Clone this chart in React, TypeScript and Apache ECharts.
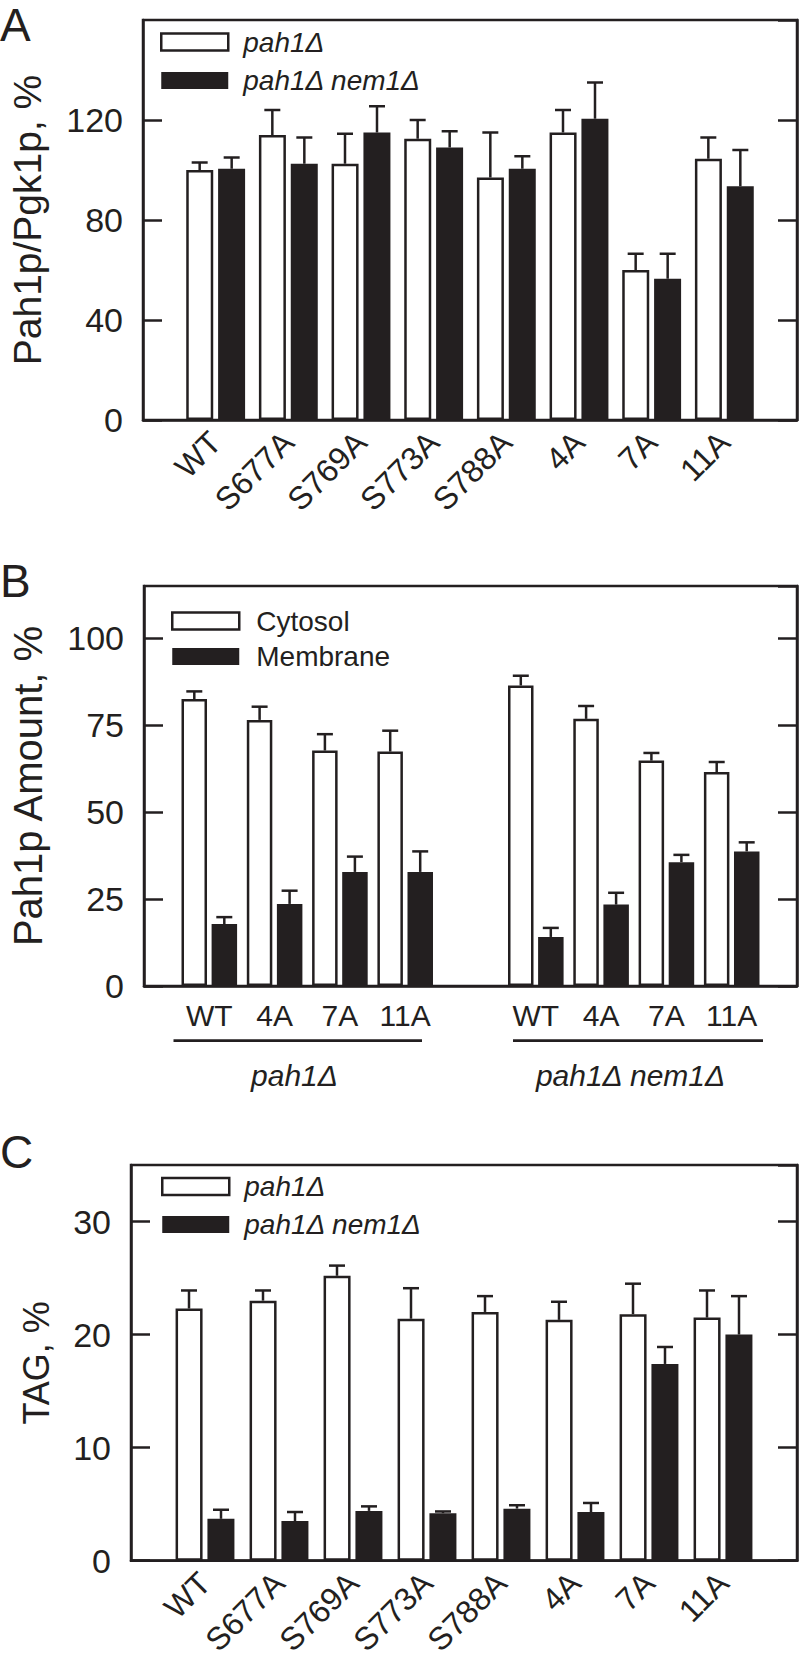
import React, { useEffect, useRef } from 'react';
import * as echarts from 'echarts';

const FONT = '"Liberation Sans", Arial, Helvetica, sans-serif';
const INK = '#231f20';

// ---------- Panel A ----------
const catsA = ['WT', 'S677A', 'S769A', 'S773A', 'S788A', '4A', '7A', '11A'];
const aPah1 = [100, 114, 102.5, 112.5, 97, 115, 60, 104.5];
const aPah1Err = [103, 124, 114.5, 120, 115, 124, 66.5, 113];
const aNem1 = [100.5, 102.5, 115, 109, 100.5, 120.5, 56.5, 93.5];
const aNem1Err = [105, 113, 125.5, 115.5, 105.5, 135, 66.5, 108];
const ticksA = { min: 0, max: 160, interval: 40 };

// ---------- Panel B ----------
const catsB = ['WT', '4A', '7A', '11A'];
const groupsB = ['pah1Δ', 'pah1Δ nem1Δ'];
const bCytosol = [82.5, 76.5, 67.7, 67.4, 86.4, 76.8, 64.8, 61.5];
const bCytosolErr = [84.7, 80.3, 72.4, 73.4, 89.2, 80.5, 67, 64.4];
const bMembrane = [17.8, 23.6, 32.8, 32.8, 14.1, 23.4, 35.6, 38.7];
const bMembraneErr = [19.8, 27.4, 37.2, 38.7, 16.7, 26.8, 37.7, 41.3];
const ticksB = { min: 0, max: 115, interval: 25 };

// ---------- Panel C ----------
const catsC = ['WT', 'S677A', 'S769A', 'S773A', 'S788A', '4A', '7A', '11A'];
const cPah1 = [22.3, 23.0, 25.2, 21.4, 22.0, 21.3, 21.8, 21.5];
const cPah1Err = [23.9, 23.9, 26.1, 24.1, 23.4, 22.9, 24.5, 23.9];
const cNem1 = [3.7, 3.5, 4.4, 4.2, 4.6, 4.3, 17.4, 20.0];
const cNem1Err = [4.5, 4.3, 4.8, 4.35, 4.9, 5.1, 18.9, 23.4];
const ticksC = { min: 0, max: 35, interval: 10 };

const LW = 2.5;

function padCats(cats: string[]) {
  return ['pad|L', ...cats.map((c, i) => c + '|' + i), 'pad|R'];
}
// positions (category indices) for panel B with a gap between groups
const posB = [1, 2, 3, 4, 6, 7, 8, 9];
const xDataB = (() => {
  const arr: string[] = [];
  for (let i = 0; i < 11; i++) arr.push('pad|' + i);
  posB.forEach((p, k) => (arr[p] = catsB[k % 4] + '|' + k));
  return arr;
})();

function labelOf(v: string) {
  return v.startsWith('pad|') ? '' : v.split('|')[0];
}

function barData(vals: number[], positions: number[], len: number) {
  const arr: (number | null)[] = new Array(len).fill(null);
  positions.forEach((p, k) => (arr[p] = vals[k]));
  return arr;
}

function errSeries(gi: number, vals: number[], errs: number[], positions: number[], offset: number) {
  return {
    type: 'custom',
    xAxisIndex: gi,
    yAxisIndex: gi * 2,
    z: 5,
    silent: true,
    data: positions.map((p, k) => [p, vals[k], errs[k]]),
    encode: { x: 0, y: [1, 2] },
    renderItem: (params: any, api: any) => {
      const c = api.value(0);
      const p0 = api.coord([c, api.value(1)]);
      const p1 = api.coord([c, api.value(2)]);
      const x = p0[0] + offset;
      const cap = 16;
      return {
        type: 'group',
        children: [
          { type: 'line', shape: { x1: x, y1: p0[1], x2: x, y2: p1[1] }, style: { stroke: INK, lineWidth: LW } },
          { type: 'line', shape: { x1: x - cap / 2, y1: p1[1], x2: x + cap / 2, y2: p1[1] }, style: { stroke: INK, lineWidth: LW } },
        ],
      };
    },
  };
}

const whiteStyle = { color: '#ffffff', borderColor: INK, borderWidth: LW };
const blackStyle = { color: INK, borderWidth: 0 };

function yAxes(gi: number, t: { min: number; max: number; interval: number }, name: string, nameGap: number, nameSize: number) {
  const common = {
    gridIndex: gi,
    type: 'value',
    min: t.min,
    max: t.max,
    interval: t.interval,
    splitLine: { show: false },
    axisLine: { show: true, lineStyle: { color: INK, width: LW } },
    axisTick: { show: true, inside: true, length: 19, lineStyle: { color: INK, width: LW } },
  };
  return [
    {
      ...common,
      position: 'left',
      name,
      nameLocation: 'middle',
      nameGap,
      nameTextStyle: { fontSize: nameSize, fontFamily: FONT, color: INK },
      axisLabel: { show: true, fontSize: 34, fontFamily: FONT, color: INK, margin: 20, showMaxLabel: false },
    },
    {
      ...common,
      position: 'right',
      axisLabel: { show: false },
    },
  ];
}

function legend(names: string[], left: number, top: number, gap: number, italic: boolean, pad: number) {
  return {
    orient: 'vertical',
    left,
    top,
    padding: 0,
    itemGap: gap,
    itemWidth: 67,
    itemHeight: 17,
    selectedMode: false,
    icon: 'rect',
    data: [
      { name: names[0], itemStyle: whiteStyle },
      { name: names[1], itemStyle: blackStyle },
    ],
    textStyle: {
      fontSize: 28,
      fontFamily: FONT,
      fontStyle: italic ? 'italic' : 'normal',
      color: INK,
      lineHeight: 30,
      padding: [0, 0, 0, pad],
    },
  };
}

export default function App() {
  const ref = useRef<HTMLDivElement>(null);
  useEffect(() => {
    if (!ref.current) return;
    const chart = echarts.init(ref.current, undefined, { renderer: 'svg' });

    const xA = padCats(catsA);
    const xC = padCats(catsC);
    const posAC = catsA.map((_, i) => i + 1);

    const gridCommon = { show: true, borderColor: INK, borderWidth: LW, backgroundColor: 'transparent', left: 131, width: 666, height: 400 };

    const xAxisRot = (gi: number, data: string[]) => ({
      gridIndex: gi,
      type: 'category',
      data,
      boundaryGap: false,
      axisLine: { show: true, lineStyle: { color: INK, width: LW } },
      axisTick: { show: false },
      splitLine: { show: false },
      axisLabel: { interval: 0, rotate: 45, fontSize: 32, fontFamily: FONT, color: INK, margin: 17, formatter: labelOf },
    });

    const option: any = {
      animation: false,
      backgroundColor: '#ffffff',
      grid: [
        { ...gridCommon, top: 20 },
        { ...gridCommon, top: 586 },
        { ...gridCommon, top: 1165 },
      ],
      xAxis: [
        xAxisRot(0, xA),
        {
          gridIndex: 1,
          type: 'category',
          data: xDataB,
          boundaryGap: false,
          axisLine: { show: true, lineStyle: { color: INK, width: LW } },
          axisTick: { show: false },
          splitLine: { show: false },
          axisLabel: { interval: 0, fontSize: 30, fontFamily: FONT, color: INK, margin: 14, formatter: labelOf },
        },
        xAxisRot(2, xC),
      ],
      yAxis: [
        ...yAxes(0, ticksA, 'Pah1p/Pgk1p, %', 96, 39),
        ...yAxes(1, ticksB, 'Pah1p Amount, %', 96, 40),
        ...yAxes(2, ticksC, 'TAG, %', 77, 36),
      ],
      legend: [
        legend(['pah1Δ', 'pah1Δ nem1Δ'], 160, 27, 8.5, true, 10),
        legend(['Cytosol', 'Membrane'], 171, 606, 5.5, false, 12),
        legend(['pah1Δ', 'pah1Δ nem1Δ'], 161, 1171.5, 8, true, 10),
      ],
      series: [
        // Panel A
        { type: 'bar', name: 'pah1Δ', xAxisIndex: 0, yAxisIndex: 0, barWidth: 27, barGap: '18%', itemStyle: whiteStyle, data: barData(aPah1, posAC, 10) },
        { type: 'bar', name: 'pah1Δ nem1Δ', xAxisIndex: 0, yAxisIndex: 0, barWidth: 27, barGap: '18%', itemStyle: blackStyle, data: barData(aNem1, posAC, 10) },
        errSeries(0, aPah1, aPah1Err, posAC, -16),
        errSeries(0, aNem1, aNem1Err, posAC, 16),
        // Panel B
        { type: 'bar', name: 'Cytosol', xAxisIndex: 1, yAxisIndex: 2, barWidth: 25.5, barGap: '18%', itemStyle: whiteStyle, data: barData(bCytosol, posB, 11) },
        { type: 'bar', name: 'Membrane', xAxisIndex: 1, yAxisIndex: 2, barWidth: 25.5, barGap: '18%', itemStyle: blackStyle, data: barData(bMembrane, posB, 11) },
        errSeries(1, bCytosol, bCytosolErr, posB, -15),
        errSeries(1, bMembrane, bMembraneErr, posB, 15),
        // Panel C
        { type: 'bar', name: 'pah1Δ', xAxisIndex: 2, yAxisIndex: 4, barWidth: 27, barGap: '18%', itemStyle: whiteStyle, data: barData(cPah1, posAC, 10) },
        { type: 'bar', name: 'pah1Δ nem1Δ', xAxisIndex: 2, yAxisIndex: 4, barWidth: 27, barGap: '18%', itemStyle: blackStyle, data: barData(cNem1, posAC, 10) },
        errSeries(2, cPah1, cPah1Err, posAC, -16),
        errSeries(2, cNem1, cNem1Err, posAC, 16),
      ],
      graphic: [
        { type: 'text', left: 0, top: 2, style: { text: 'A', fontSize: 46, fontFamily: FONT, fill: INK } },
        { type: 'text', left: 0, top: 558, style: { text: 'B', fontSize: 46, fontFamily: FONT, fill: INK } },
        { type: 'text', left: 0, top: 1129, style: { text: 'C', fontSize: 46, fontFamily: FONT, fill: INK } },
        { type: 'line', shape: { x1: 173.5, y1: 1040.7, x2: 422, y2: 1040.7 }, style: { stroke: INK, lineWidth: 2.7 } },
        { type: 'line', shape: { x1: 513, y1: 1040.7, x2: 763, y2: 1040.7 }, style: { stroke: INK, lineWidth: 2.7 } },
        { type: 'text', x: 294.5, y: 1075, style: { text: groupsB[0], fontSize: 30, fontStyle: 'italic', fontFamily: FONT, fill: INK, align: 'center', verticalAlign: 'middle' } },
        { type: 'text', x: 630.5, y: 1075, style: { text: groupsB[1], fontSize: 30, fontStyle: 'italic', fontFamily: FONT, fill: INK, align: 'center', verticalAlign: 'middle' } },
      ],
    };

    chart.setOption(option);
    return () => chart.dispose();
  }, []);

  return <div ref={ref} style={{ position: 'absolute', left: 0, top: 0, width: 800, height: 1659 }} />;
}
